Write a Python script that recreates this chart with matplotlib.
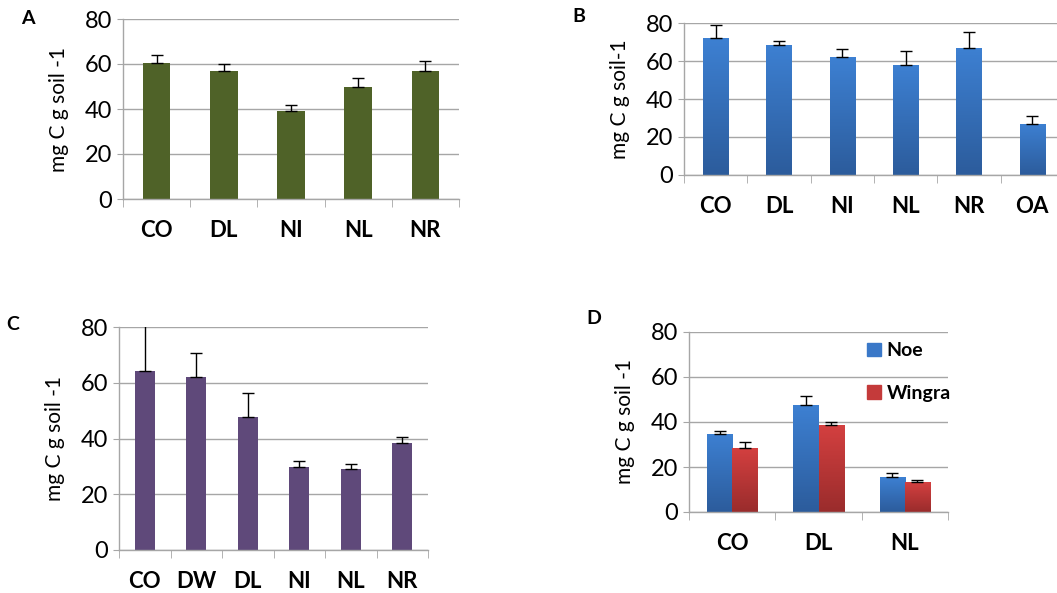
import numpy as np
import matplotlib
matplotlib.use("Agg")
import matplotlib.pyplot as plt
from matplotlib.colors import LinearSegmentedColormap
from matplotlib.patches import Patch

plt.rcParams['font.family'] = ['Lato', 'DejaVu Sans']

W, H = 1057, 593

# panel A
a_cats = ['CO', 'DL', 'NI', 'NL', 'NR']
a_vals = [60.5, 57, 39, 50, 57]
a_err = [3.5, 3, 3, 4, 4.5]

# panel B
b_cats = ['CO', 'DL', 'NI', 'NL', 'NR', 'OA']
b_vals = [72, 68.5, 62, 58, 67, 27]
b_err = [7, 2, 4.5, 7.5, 8.5, 4]

# panel C
c_cats = ['CO', 'DW', 'DL', 'NI', 'NL', 'NR']
c_vals = [64.3, 62, 47.8, 29.8, 29, 38.4]
c_err = [16.5, 8.5, 8.7, 2.3, 2, 2]

# panel D
d_cats = ['CO', 'DL', 'NL']
d_noe = [34.7, 47.6, 15.4]
d_noe_err = [1.2, 4.1, 1.8]
d_wingra = [28.6, 38.8, 13.2]
d_wingra_err = [2.5, 1.2, 1.2]

grid_col = '#a6a6a6'
blue = ('#3d80d2', '#2c5c9c')
red = ('#d44040', '#9a2c2c')


def make_ax(left, top, right, bottom):
    return fig.add_axes([left / W, 1 - bottom / H, (right - left) / W, (bottom - top) / H])


def style(ax, ncat, label, letter, lx, ly):
    ax.set_ylim(0, 80)
    ax.set_xlim(-0.5, ncat - 0.5)
    ax.set_yticks([0, 20, 40, 60, 80])
    ax.yaxis.grid(True, color=grid_col, lw=1)
    ax.set_axisbelow(True)
    for s in ['top', 'right']:
        ax.spines[s].set_visible(False)
    for s in ['left', 'bottom']:
        ax.spines[s].set_color(grid_col)
        ax.spines[s].set_linewidth(1)
    ax.tick_params(axis='y', length=4, color=grid_col, labelsize=17, pad=4)
    ax.set_xticks(np.arange(-0.5, ncat), minor=True)
    ax.tick_params(axis='x', which='minor', length=6, color=grid_col)
    ax.tick_params(axis='x', which='major', length=0, labelsize=16, pad=15)
    for t in ax.get_xticklabels():
        t.set_fontweight('bold')
    ax.set_ylabel(label, fontsize=15, labelpad=11)
    fig.text(lx / W, 1 - ly / H, letter, fontsize=14, fontweight='bold', ha='center', va='center')


def grad_bars(ax, bars, top_col, bot_col):
    cmap = LinearSegmentedColormap.from_list('g', [bot_col, top_col])
    g = np.linspace(0, 1, 100).reshape(-1, 1)
    for b in bars:
        x0, w, h = b.get_x(), b.get_width(), b.get_height()
        im = ax.imshow(g, cmap=cmap, origin='lower', aspect='auto',
                       extent=[x0, x0 + w, 0, h], zorder=2)
        im.set_clip_path(b)
        b.set_facecolor('none')


def err(ax, x, vals, e):
    ax.errorbar(x, vals, yerr=[np.zeros(len(x)), e], fmt='none', ecolor='black',
                elinewidth=1, capsize=4, capthick=1, zorder=3)


fig = plt.figure(figsize=(W / 100, H / 100), dpi=100)

# A
ax = make_ax(123, 19, 459, 199)
x = np.arange(len(a_cats))
ax.bar(x, a_vals, 0.41, color='#4f6228', zorder=2)
err(ax, x, a_vals, a_err)
ax.set_xticks(x)
ax.set_xticklabels(a_cats)
style(ax, len(a_cats), 'mg C g soil -1', 'A', 28, 18)

# B
ax = make_ax(684, 23, 1064, 175)
x = np.arange(len(b_cats))
bars = ax.bar(x, b_vals, 0.4, color=blue[0], zorder=2)
grad_bars(ax, bars, *blue)
err(ax, x, b_vals, b_err)
ax.set_xticks(x)
ax.set_xticklabels(b_cats)
style(ax, len(b_cats), 'mg C g soil-1', 'B', 579, 17)

# C
ax = make_ax(119, 327, 428, 550)
x = np.arange(len(c_cats))
ax.bar(x, c_vals, 0.39, color='#5f497a', zorder=2)
err(ax, x, c_vals, c_err)
ax.set_xticks(x)
ax.set_xticklabels(c_cats)
style(ax, len(c_cats), 'mg C g soil -1', 'C', 13, 324)

# D
ax = make_ax(689, 332, 948, 512)
x = np.arange(len(d_cats))
bw = 0.29
b1 = ax.bar(x - bw / 2, d_noe, bw, zorder=2)
b2 = ax.bar(x + bw / 2, d_wingra, bw, zorder=2)
grad_bars(ax, b1, *blue)
grad_bars(ax, b2, *red)
err(ax, x - bw / 2, d_noe, d_noe_err)
err(ax, x + bw / 2, d_wingra, d_wingra_err)
ax.set_xticks(x)
ax.set_xticklabels(d_cats)
style(ax, len(d_cats), 'mg C g soil -1', 'D', 594, 318)
ax.legend(handles=[Patch(color='#3a78c8', label='Noe'), Patch(color='#c43a3a', label='Wingra')],
          loc='upper left', bbox_to_anchor=(0.62, 1.04), frameon=False,
          handlelength=0.7, handleheight=0.7, handletextpad=0.3, labelspacing=1.3,
          prop={'weight': 'bold', 'size': 14})

fig.savefig('out.png', dpi=100)
